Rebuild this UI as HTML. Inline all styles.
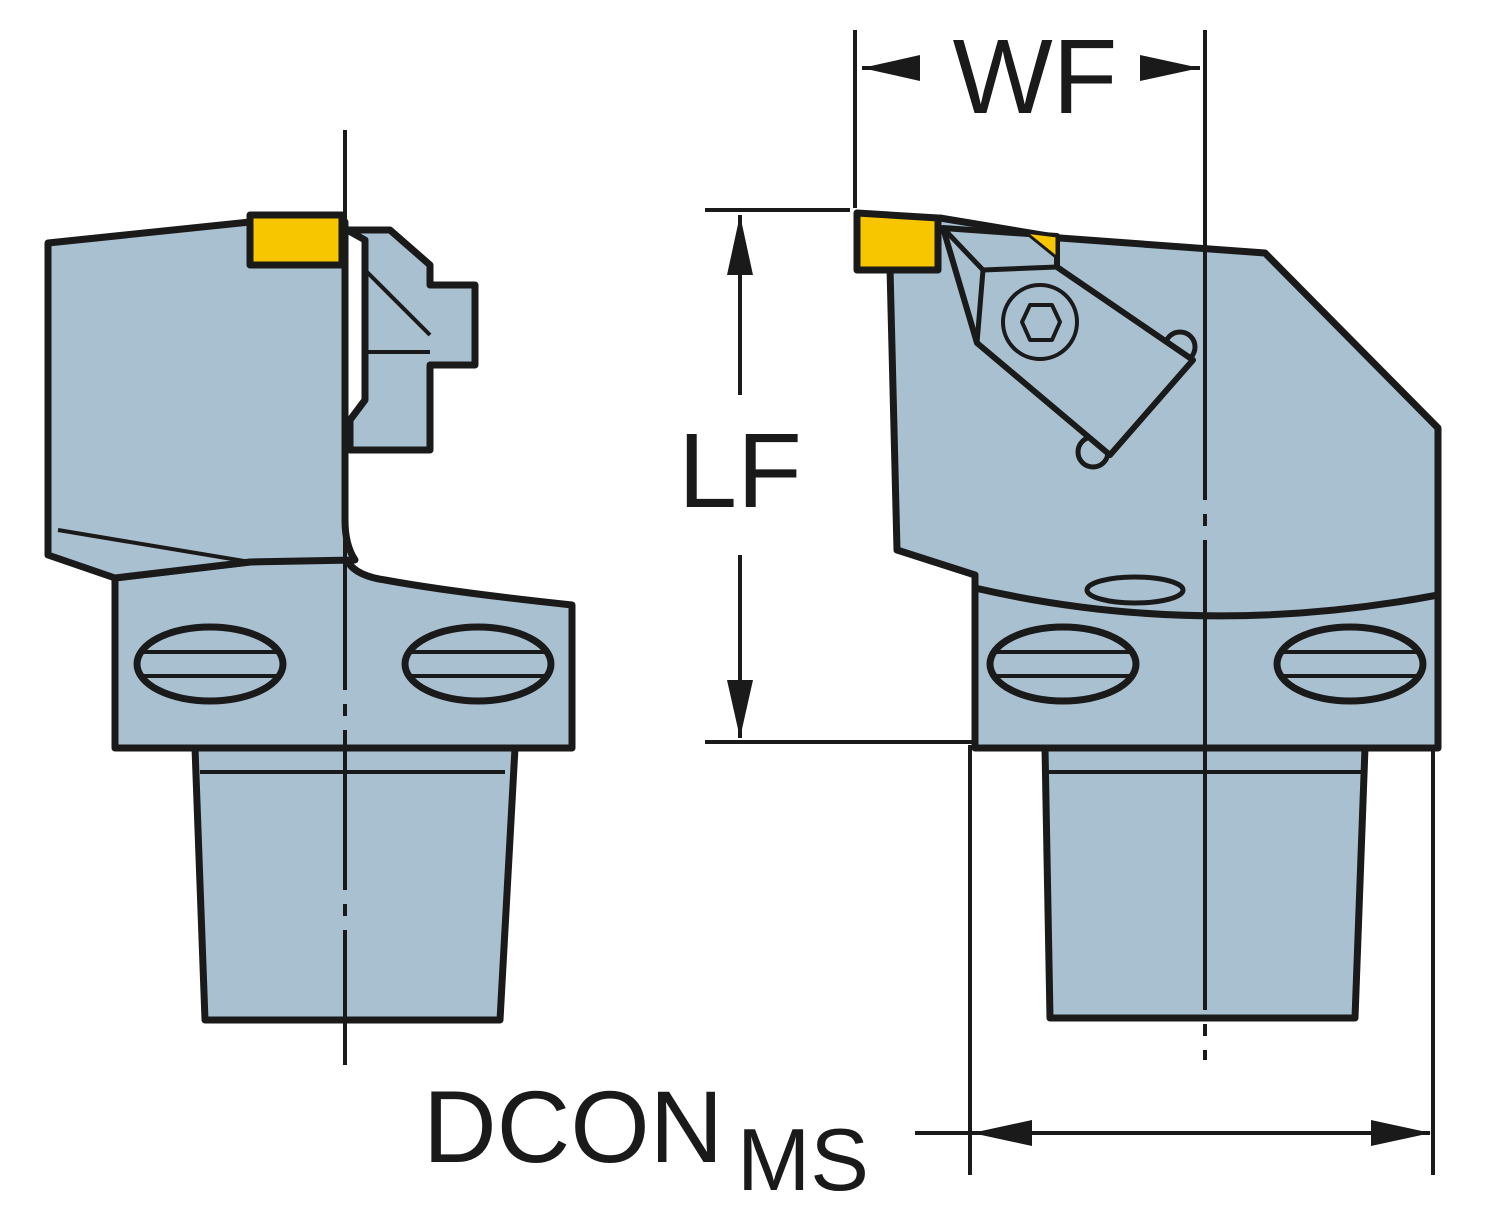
<!DOCTYPE html>
<html><head><style>html,body{margin:0;padding:0;background:#fff}svg{display:block}</style></head>
<body>
<svg width="1500" height="1221" viewBox="0 0 1500 1221" xmlns="http://www.w3.org/2000/svg">
<g stroke="#1a1a1a" stroke-width="7" stroke-linejoin="round" fill="#a9c0d0">
<!-- LEFT VIEW -->
<polygon points="195,748 515,748 500,1020 205,1020"/>
<line x1="200" y1="772" x2="505" y2="772" stroke-width="4"/>
<path d="M115,578 L250,562 L345,555 Q350,575 385,580 Q450,592 572,605 L572,748 L115,748 Z"/>
<path d="M48,243 L250,222 L345,222 L345,520 Q345,545 355,560 L250,562 L115,578 L48,555 Z"/>
<path d="M58,530 L250,562" stroke-width="4" fill="none"/>
<path d="M347,230 L390,230 L430,265 L430,285 L475,285 L475,365 L430,365 L430,450 L350,450 L350,420 L365,400 L365,240 Z"/>
<line x1="365" y1="270" x2="430" y2="335" stroke-width="4"/>
<line x1="365" y1="352" x2="430" y2="352" stroke-width="4"/>
<rect x="250" y="215" width="92" height="50" fill="#f7c600"/>
<ellipse cx="210" cy="664" rx="73" ry="37"/>
<line x1="140" y1="652" x2="282" y2="652" stroke-width="4"/>
<line x1="140" y1="676" x2="282" y2="676" stroke-width="4"/>
<ellipse cx="478" cy="664" rx="73" ry="37"/>
<line x1="406" y1="652" x2="550" y2="652" stroke-width="4"/>
<line x1="406" y1="676" x2="550" y2="676" stroke-width="4"/>

<!-- RIGHT VIEW -->
<polygon points="1045,748 1365,748 1355,1018 1050,1018"/>
<line x1="1048" y1="772" x2="1362" y2="772" stroke-width="4"/>
<path d="M940,218 L1060,238 L1265,253 L1438,428 L1438,748 L975,748 L975,575 L897,550 L890,268 Z"/>
<path d="M975,588 Q1200,640 1438,595" fill="none"/>
<ellipse cx="1135" cy="590" rx="48" ry="13" stroke-width="5"/>
<!-- clamp -->
<circle cx="1180" cy="347" r="15" stroke-width="5"/>
<circle cx="1093" cy="452" r="15" stroke-width="5"/>
<path d="M943,228 L1057,236 L1057,267 L1193,360 L1110,455 L977,343 Z" stroke-width="6"/>
<polyline points="943,228 983,270 977,343" fill="none" stroke-width="5"/>
<line x1="983" y1="270" x2="1057" y2="267" stroke-width="5"/>
<circle cx="1040" cy="322" r="37" stroke-width="4"/>
<polygon points="1030,305 1052,305 1060,322 1052,340 1030,340 1022,322" stroke-width="4"/>
<polygon points="857,213 938,218 938,270 857,270" fill="#f7c600"/>
<polygon points="1025,232 1057,236 1057,258" fill="#f7c600" stroke-width="3"/>
<ellipse cx="1063" cy="664" rx="73" ry="37"/>
<line x1="992" y1="652" x2="1134" y2="652" stroke-width="4"/>
<line x1="992" y1="676" x2="1134" y2="676" stroke-width="4"/>
<ellipse cx="1350" cy="664" rx="73" ry="37"/>
<line x1="1278" y1="652" x2="1422" y2="652" stroke-width="4"/>
<line x1="1278" y1="676" x2="1422" y2="676" stroke-width="4"/>
</g>

<g stroke="#1a1a1a" stroke-width="4" fill="none">
<line x1="345" y1="130" x2="345" y2="1065" stroke-dasharray="160,14,12,14"/>
<line x1="1205" y1="30" x2="1205" y2="1060" stroke-dasharray="470,14,12,14"/>
<line x1="855" y1="30" x2="855" y2="208"/>
<line x1="862" y1="68" x2="920" y2="68"/>
<line x1="1140" y1="68" x2="1200" y2="68"/>
<line x1="705" y1="210" x2="850" y2="210"/>
<line x1="705" y1="742" x2="975" y2="742"/>
<line x1="740" y1="215" x2="740" y2="395"/>
<line x1="740" y1="555" x2="740" y2="738"/>
<line x1="970" y1="745" x2="970" y2="1175"/>
<line x1="1433" y1="745" x2="1433" y2="1175"/>
<line x1="915" y1="1133" x2="1430" y2="1133"/>
</g>
<g fill="#1a1a1a">
<polygon points="862,68 920,55 920,81"/>
<polygon points="1200,68 1140,55 1140,81"/>
<polygon points="740,215 727,275 753,275"/>
<polygon points="740,738 727,680 753,680"/>
<polygon points="972,1133 1032,1120 1032,1146"/>
<polygon points="1431,1133 1371,1120 1371,1146"/>
</g>
<g font-family="Liberation Sans, sans-serif" fill="#1a1a1a">
<text x="1035" y="113" font-size="106" text-anchor="middle">WF</text>
<text x="740" y="507" font-size="106" text-anchor="middle">LF</text>
<text x="423" y="1162" font-size="102">DCON</text>
<text x="737" y="1190" font-size="88">MS</text>
</g>
</svg>
</body></html>
